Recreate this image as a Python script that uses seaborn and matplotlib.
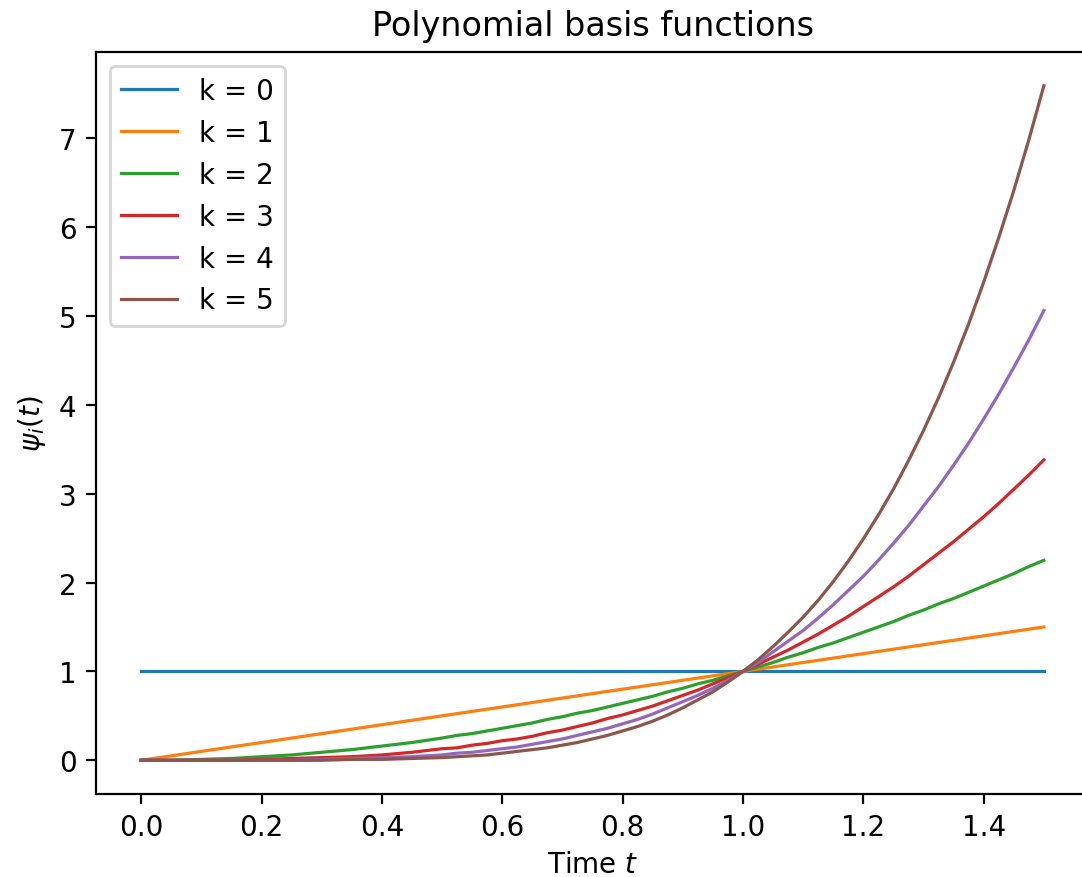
import numpy as np
import pandas as pd
import matplotlib
matplotlib.use('Agg')
import matplotlib.pyplot as plt
import seaborn as sns

# time samples and values
# (coarser steps where curves are flat, finer where they bend)
t = [0.00, 0.05, 0.10, 0.15, 0.20, 0.25, 0.30, 0.35, 0.40, 0.45, 0.50,
     0.525, 0.55, 0.575, 0.60, 0.625, 0.65, 0.675, 0.70, 0.725, 0.75,
     0.775, 0.80, 0.825, 0.85, 0.875, 0.90, 0.925, 0.95, 0.975, 1.00,
     1.025, 1.05, 1.075, 1.10, 1.125, 1.15, 1.175, 1.20, 1.225, 1.25,
     1.275, 1.30, 1.325, 1.35, 1.375, 1.40, 1.425, 1.45, 1.475, 1.50]

k0 = [1.00] * 51
k1 = list(t)
k2 = [0.00, 0.00, 0.01, 0.02, 0.04, 0.06, 0.09, 0.12, 0.16, 0.20, 0.25,
      0.28, 0.30, 0.33, 0.36, 0.39, 0.42, 0.46, 0.49, 0.53, 0.56,
      0.60, 0.64, 0.68, 0.72, 0.77, 0.81, 0.86, 0.90, 0.95, 1.00,
      1.05, 1.10, 1.16, 1.21, 1.27, 1.32, 1.38, 1.44, 1.50, 1.56,
      1.63, 1.69, 1.76, 1.82, 1.89, 1.96, 2.03, 2.10, 2.18, 2.25]
k3 = [0.00, 0.00, 0.00, 0.00, 0.01, 0.02, 0.03, 0.04, 0.06, 0.09, 0.13,
      0.14, 0.17, 0.19, 0.22, 0.24, 0.27, 0.31, 0.34, 0.38, 0.42,
      0.47, 0.51, 0.56, 0.61, 0.67, 0.73, 0.79, 0.86, 0.93, 1.00,
      1.08, 1.16, 1.24, 1.33, 1.42, 1.52, 1.62, 1.73, 1.84, 1.95,
      2.07, 2.20, 2.33, 2.46, 2.60, 2.74, 2.89, 3.05, 3.21, 3.38]
k4 = [0.00, 0.00, 0.00, 0.00, 0.00, 0.00, 0.01, 0.02, 0.03, 0.04, 0.06,
      0.08, 0.09, 0.11, 0.13, 0.15, 0.18, 0.21, 0.24, 0.28, 0.32,
      0.36, 0.41, 0.46, 0.52, 0.59, 0.66, 0.73, 0.81, 0.90, 1.00,
      1.10, 1.22, 1.34, 1.46, 1.60, 1.75, 1.91, 2.07, 2.25, 2.44,
      2.64, 2.86, 3.08, 3.32, 3.57, 3.84, 4.12, 4.42, 4.73, 5.06]
k5 = [0.00, 0.00, 0.00, 0.00, 0.00, 0.00, 0.00, 0.01, 0.01, 0.02, 0.03,
      0.04, 0.05, 0.06, 0.08, 0.10, 0.12, 0.14, 0.17, 0.20, 0.24,
      0.28, 0.33, 0.38, 0.44, 0.51, 0.59, 0.68, 0.77, 0.88, 1.00,
      1.13, 1.28, 1.44, 1.61, 1.80, 2.01, 2.24, 2.49, 2.76, 3.05,
      3.37, 3.71, 4.08, 4.48, 4.91, 5.38, 5.88, 6.41, 6.98, 7.59]

series = [k0, k1, k2, k3, k4, k5]
labels = ['k = %d' % i for i in range(6)]

# long table for seaborn
rows = []
for lab, vals in zip(labels, series):
    for ti, v in zip(t, vals):
        rows.append((ti, v, lab))
df = pd.DataFrame(rows, columns=['t', 'psi', 'k'])

fig = plt.figure(figsize=(1082 / 200, 878 / 200), dpi=200)
# right spine sits just outside the picture, as in the reference
ax = fig.add_axes([96 / 1082, 83 / 878, 993 / 1082, 742 / 878])

sns.lineplot(data=df, x='t', y='psi', hue='k', palette='tab10',
             linewidth=1.15, ax=ax, legend=True)

ax.set_title('Polynomial basis functions')
ax.set_xlabel('Time $t$', labelpad=3)
ax.set_ylabel(r'$\psi_i(t)$')
ax.legend(loc='upper left')
ax.set_xticks([0.0, 0.2, 0.4, 0.6, 0.8, 1.0, 1.2, 1.4])
ax.margins(x=0.05, y=0.05)

fig.savefig('out.png', dpi=200)
